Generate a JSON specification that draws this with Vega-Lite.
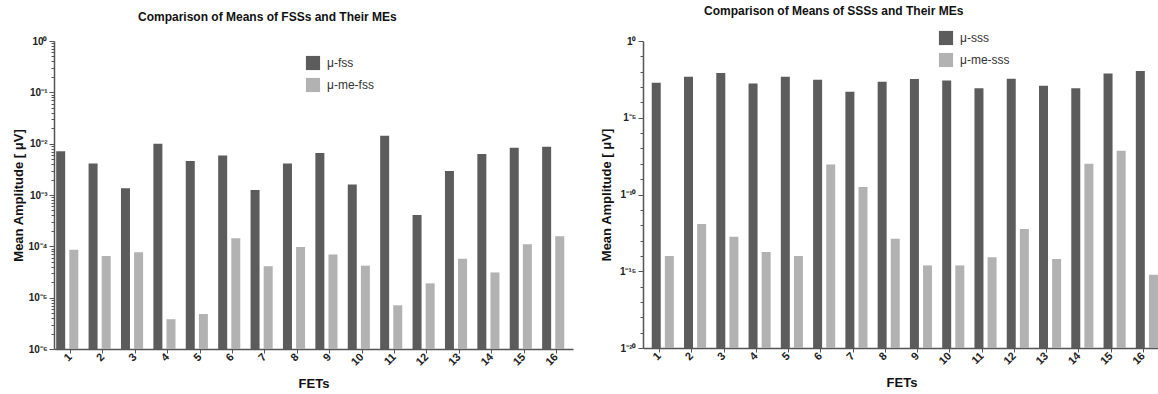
{
  "$schema": "https://vega.github.io/schema/vega-lite/v6.json",
  "background": "white",
  "padding": {"left": 12, "top": 5, "right": 0, "bottom": 0},
  "spacing": 27,
  "config": {
    "font": "Liberation Sans",
    "view": {"stroke": null},
    "axis": {
      "domainColor": "#555555", "domainWidth": 1.5, "tickColor": "#555555", "tickWidth": 1,
      "labelFont": "Liberation Sans", "labelFontWeight": "bold", "labelFontSize": 11, "labelColor": "#222222",
      "titleFont": "Liberation Sans", "titleFontWeight": "bold", "titleFontSize": 13, "titleColor": "#111111",
      "grid": false
    },
    "legend": {"labelFont": "Liberation Sans", "labelFontSize": 12, "labelColor": "#333333"},
    "title": {"font": "Liberation Sans", "fontSize": 12, "fontWeight": "bold", "color": "#111111"}
  },
  "datasets": {
    "fss": [
      {"fet": 1, "series": "μ-fss", "value": 0.0071}, {"fet": 1, "series": "μ-me-fss", "value": 8.6e-5},
      {"fet": 2, "series": "μ-fss", "value": 0.0041}, {"fet": 2, "series": "μ-me-fss", "value": 6.5e-5},
      {"fet": 3, "series": "μ-fss", "value": 0.00135}, {"fet": 3, "series": "μ-me-fss", "value": 7.7e-5},
      {"fet": 4, "series": "μ-fss", "value": 0.0100}, {"fet": 4, "series": "μ-me-fss", "value": 3.8e-6},
      {"fet": 5, "series": "μ-fss", "value": 0.0046}, {"fet": 5, "series": "μ-me-fss", "value": 4.8e-6},
      {"fet": 6, "series": "μ-fss", "value": 0.0059}, {"fet": 6, "series": "μ-me-fss", "value": 1.44e-4},
      {"fet": 7, "series": "μ-fss", "value": 0.00125}, {"fet": 7, "series": "μ-me-fss", "value": 4.1e-5},
      {"fet": 8, "series": "μ-fss", "value": 0.0041}, {"fet": 8, "series": "μ-me-fss", "value": 9.7e-5},
      {"fet": 9, "series": "μ-fss", "value": 0.0066}, {"fet": 9, "series": "μ-me-fss", "value": 6.9e-5},
      {"fet": 10, "series": "μ-fss", "value": 0.0016}, {"fet": 10, "series": "μ-me-fss", "value": 4.2e-5},
      {"fet": 11, "series": "μ-fss", "value": 0.0142}, {"fet": 11, "series": "μ-me-fss", "value": 7.1e-6},
      {"fet": 12, "series": "μ-fss", "value": 0.00041}, {"fet": 12, "series": "μ-me-fss", "value": 1.9e-5},
      {"fet": 13, "series": "μ-fss", "value": 0.00295}, {"fet": 13, "series": "μ-me-fss", "value": 5.7e-5},
      {"fet": 14, "series": "μ-fss", "value": 0.0063}, {"fet": 14, "series": "μ-me-fss", "value": 3.1e-5},
      {"fet": 15, "series": "μ-fss", "value": 0.0083}, {"fet": 15, "series": "μ-me-fss", "value": 1.1e-4},
      {"fet": 16, "series": "μ-fss", "value": 0.0087}, {"fet": 16, "series": "μ-me-fss", "value": 1.58e-4}
    ],
    "sss": [
      {"fet": 1, "series": "μ-sss", "value": 0.0019}, {"fet": 1, "series": "μ-me-sss", "value": 1.0e-14},
      {"fet": 2, "series": "μ-sss", "value": 0.0047}, {"fet": 2, "series": "μ-me-sss", "value": 1.2e-12},
      {"fet": 3, "series": "μ-sss", "value": 0.0081}, {"fet": 3, "series": "μ-me-sss", "value": 1.8e-13},
      {"fet": 4, "series": "μ-sss", "value": 0.0017}, {"fet": 4, "series": "μ-me-sss", "value": 1.8e-14},
      {"fet": 5, "series": "μ-sss", "value": 0.0047}, {"fet": 5, "series": "μ-me-sss", "value": 1.0e-14},
      {"fet": 6, "series": "μ-sss", "value": 0.0030}, {"fet": 6, "series": "μ-me-sss", "value": 9.0e-9},
      {"fet": 7, "series": "μ-sss", "value": 0.00050}, {"fet": 7, "series": "μ-me-sss", "value": 3.1e-10},
      {"fet": 8, "series": "μ-sss", "value": 0.0022}, {"fet": 8, "series": "μ-me-sss", "value": 1.3e-13},
      {"fet": 9, "series": "μ-sss", "value": 0.0033}, {"fet": 9, "series": "μ-me-sss", "value": 2.4e-15},
      {"fet": 10, "series": "μ-sss", "value": 0.0027}, {"fet": 10, "series": "μ-me-sss", "value": 2.4e-15},
      {"fet": 11, "series": "μ-sss", "value": 0.00082}, {"fet": 11, "series": "μ-me-sss", "value": 8.1e-15},
      {"fet": 12, "series": "μ-sss", "value": 0.0035}, {"fet": 12, "series": "μ-me-sss", "value": 5.6e-13},
      {"fet": 13, "series": "μ-sss", "value": 0.0012}, {"fet": 13, "series": "μ-me-sss", "value": 6.3e-15},
      {"fet": 14, "series": "μ-sss", "value": 0.00082}, {"fet": 14, "series": "μ-me-sss", "value": 1.0e-8},
      {"fet": 15, "series": "μ-sss", "value": 0.0076}, {"fet": 15, "series": "μ-me-sss", "value": 7.2e-8},
      {"fet": 16, "series": "μ-sss", "value": 0.011}, {"fet": 16, "series": "μ-me-sss", "value": 5.9e-16}
    ]
  },
  "resolve": {"scale": {"color": "independent", "y": "independent"}},
  "hconcat": [
    {
      "width": 519,
      "height": 308,
      "title": {"text": "Comparison of Means of FSSs and Their MEs", "anchor": "start", "frame": "group", "dx": 84, "offset": 12},
      "data": {"name": "fss"},
      "mark": {"type": "bar", "width": 9},
      "encoding": {
        "x": {
          "field": "fet", "type": "ordinal", "sort": "ascending",
          "scale": {"paddingInner": 0, "paddingOuter": 0.01},
          "axis": {"title": "FETs", "labelAngle": -45, "labelAlign": "right", "labelBaseline": "middle", "tickSize": 4, "labelPadding": 2, "titlePadding": 10}
        },
        "xOffset": {"field": "series", "type": "nominal", "sort": ["μ-fss", "μ-me-fss"], "scale": {"paddingInner": 0.18, "paddingOuter": 0.56}},
        "y": {
          "field": "value", "type": "quantitative", "stack": null,
          "scale": {"type": "log", "domain": [1e-6, 1], "nice": false},
          "axis": {
            "title": "Mean Amplitude [ μV]",
            "values": [1e-6, 2e-6, 3e-6, 4e-6, 5e-6, 6e-6, 7e-6, 8e-6, 9e-6, 1e-5, 2e-5, 3e-5, 4e-5, 5e-5, 6e-5, 7e-5, 8e-5, 9e-5, 1e-4, 2e-4, 3e-4, 4e-4, 5e-4, 6e-4, 7e-4, 8e-4, 9e-4, 1e-3, 2e-3, 3e-3, 4e-3, 5e-3, 6e-3, 7e-3, 8e-3, 9e-3, 1e-2, 2e-2, 3e-2, 4e-2, 5e-2, 6e-2, 7e-2, 8e-2, 9e-2, 0.1, 0.2, 0.3, 0.4, 0.5, 0.6, 0.7, 0.8, 0.9, 1],
            "labelOverlap": false,
            "labelFontSize": 10,
            "labelExpr": "abs(log(datum.value)/LN10 - round(log(datum.value)/LN10)) < 0.01 ? '10' + replace(replace(replace(replace(replace(replace(replace(replace(replace(replace(replace(toString(round(log(datum.value)/LN10)),'-','⁻'),'0','⁰'),'1','¹'),'2','²'),'3','³'),'4','⁴'),'5','⁵'),'6','⁶'),'7','⁷'),'8','⁸'),'9','⁹') : ''",
            "tickSize": {"condition": {"test": "abs(log(datum.value)/LN10 - round(log(datum.value)/LN10)) < 0.01", "value": 5}, "value": 3},
            "labelPadding": 2,
            "titlePadding": 2
          }
        },
        "color": {
          "field": "series", "type": "nominal",
          "scale": {"domain": ["μ-fss", "μ-me-fss"], "range": ["#5c5c5c", "#b2b2b2"]},
          "legend": {"title": null, "orient": "none", "legendX": 251, "legendY": 14, "symbolType": "square", "symbolSize": 200, "rowPadding": 6, "labelOffset": 6}
        }
      }
    },
    {
      "width": 517,
      "height": 307,
      "title": {"text": "Comparison of Means of SSSs and Their MEs", "anchor": "start", "frame": "group", "dx": 61, "offset": 12},
      "data": {"name": "sss"},
      "mark": {"type": "bar", "width": 9},
      "encoding": {
        "x": {
          "field": "fet", "type": "ordinal", "sort": "ascending",
          "scale": {"paddingInner": 0, "paddingOuter": 0.01},
          "axis": {"title": "FETs", "labelAngle": -45, "labelAlign": "right", "labelBaseline": "middle", "tickSize": 4, "labelPadding": 2, "titlePadding": 10}
        },
        "xOffset": {"field": "series", "type": "nominal", "sort": ["μ-sss", "μ-me-sss"], "scale": {"paddingInner": 0.18, "paddingOuter": 0.56}},
        "y": {
          "field": "value", "type": "quantitative", "stack": null,
          "scale": {"type": "log", "domain": [1e-20, 1], "nice": false},
          "axis": {
            "title": "Mean Amplitude [ μV]",
            "values": [1e-20, 1e-19, 1e-18, 1e-17, 1e-16, 1e-15, 1e-14, 1e-13, 1e-12, 1e-11, 1e-10, 1e-9, 1e-8, 1e-7, 1e-6, 1e-5, 1e-4, 1e-3, 1e-2, 1e-1, 1],
            "labelOverlap": false,
            "labelFontSize": 10,
            "labelExpr": "round(log(datum.value)/LN10) % 5 == 0 ? '1' + replace(replace(replace(replace(replace(replace(replace(replace(replace(replace(replace(toString(round(log(datum.value)/LN10)),'-','⁻'),'0','⁰'),'1','¹'),'2','²'),'3','³'),'4','⁴'),'5','⁵'),'6','⁶'),'7','⁷'),'8','⁸'),'9','⁹') : ''",
            "tickSize": {"condition": {"test": "round(log(datum.value)/LN10) % 5 == 0", "value": 5}, "value": 3},
            "labelPadding": 2,
            "titlePadding": 6
          }
        },
        "color": {
          "field": "series", "type": "nominal",
          "scale": {"domain": ["μ-sss", "μ-me-sss"], "range": ["#5c5c5c", "#b2b2b2"]},
          "legend": {"title": null, "orient": "none", "legendX": 295, "legendY": -11, "symbolType": "square", "symbolSize": 200, "rowPadding": 6, "labelOffset": 6}
        }
      }
    }
  ]
}
